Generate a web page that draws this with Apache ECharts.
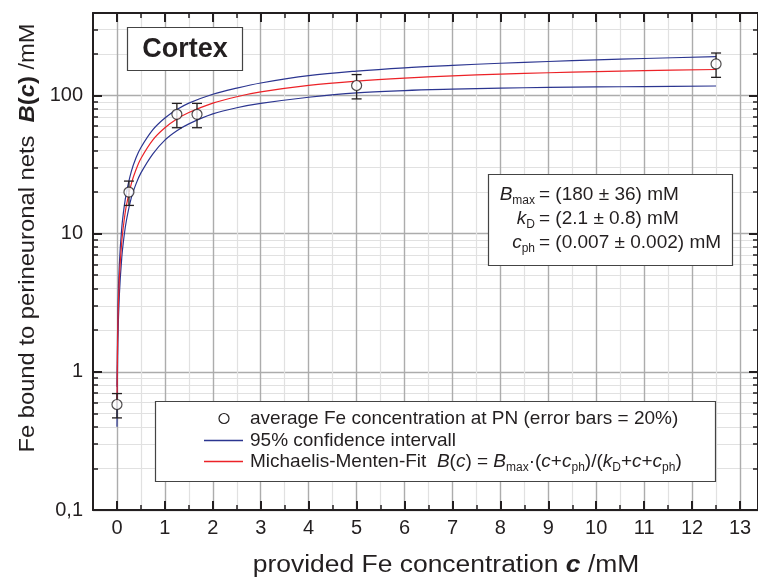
<!DOCTYPE html>
<html><head><meta charset="utf-8">
<script src="https://cdn.jsdelivr.net/npm/echarts@6/dist/echarts.min.js"></script>
<style>html,body{margin:0;padding:0;background:#fff}#c{width:758px;height:579px}</style>
</head><body><div id="c"></div>
<script>
// ---- data ----
const pointC = [0, 0.25, 1.25, 1.67, 5, 12.5];
const pointB = [0.58, 20, 73, 73, 118, 169];
const relErr = 0.2; // error bars = 20%

const fitC   = [0, 0.02, 0.05, 0.1, 0.15, 0.2, 0.3, 0.4, 0.5, 0.75, 1, 1.25, 1.5, 2, 2.5, 3, 4, 5, 6, 7, 8, 9, 10, 11, 12.5];
const fitB   = [0.60, 2.29, 4.76, 8.73, 12.5, 16.2, 23.0, 29.2, 35.0, 47.7, 58.3, 67.4, 75.2, 88.0, 97.9, 106.0, 118.1, 126.8, 133.4, 138.5, 142.6, 146.0, 148.8, 151.2, 154.1];
const upperB = [0.78, 2.9, 6.0, 11.0, 15.6, 20.0, 28.2, 35.5, 42.0, 56.5, 68.6, 79, 88, 102, 113, 123, 139, 150, 158.5, 165, 171, 176, 181, 185, 191];
const lowerB = [0.40, 1.7, 3.6, 6.7, 9.7, 12.6, 18.2, 23.0, 27.5, 37.8, 47.5, 55.5, 62.3, 73.5, 81.5, 87.5, 97, 104.5, 108.5, 111, 113, 114.2, 115.2, 116, 117];

const xMajorTicks = [0, 1, 2, 3, 4, 5, 6, 7, 8, 9, 10, 11, 12, 13];
const xMinorTicks = [0.5, 1.5, 2.5, 3.5, 4.5, 5.5, 6.5, 7.5, 8.5, 9.5, 10.5, 11.5, 12.5];
const yMajorTicks = [0.1, 1, 10, 100];
const yMinorTicks = [0.2, 0.3, 0.4, 0.5, 0.6, 0.7, 0.8, 0.9, 2, 3, 4, 5, 6, 7, 8, 9, 20, 30, 40, 50, 60, 70, 80, 90, 200, 300];

const X_MIN = -0.5, X_MAX = 13.375, Y_MIN = 0.1, Y_MAX = 395;

// ---- styling ----
const FONT = '"Liberation Sans", Arial, Helvetica, sans-serif';
const INK = '#231f20';
const BLUE = '#2b3590';
const RED = '#ec2227';

function xAx(pos, major, showLine, showLabel, showSplit) {
  return {
    type: 'value', position: pos, min: X_MIN, max: X_MAX,
    axisLine: { show: showLine, onZero: false, lineStyle: { color: INK, width: 2 } },
    axisTick: { show: true, inside: true, length: major ? 9 : 5,
      customValues: major ? xMajorTicks : xMinorTicks,
      lineStyle: { color: INK, width: major ? 2 : 1.5 } },
    axisLabel: { show: showLabel, customValues: xMajorTicks, fontSize: 20, margin: 8,
      color: INK, fontFamily: FONT },
    splitLine: { show: showSplit, lineStyle: { color: major ? '#acacac' : '#e1e1e1', width: major ? 1.4 : 1.2 } }
  };
}
function yAx(pos, major, showLine, showLabel, showSplit) {
  return {
    type: 'log', logBase: 10, position: pos, min: Y_MIN, max: Y_MAX,
    axisLine: { show: showLine, onZero: false, lineStyle: { color: INK, width: 2 } },
    axisTick: { show: true, inside: true, length: major ? 9 : 5,
      customValues: major ? yMajorTicks : yMinorTicks,
      lineStyle: { color: INK, width: major ? 2 : 1.5 } },
    axisLabel: { show: showLabel, customValues: yMajorTicks, fontSize: 20, margin: 10,
      color: INK, fontFamily: FONT,
      formatter: v => v < 1 ? (+v).toFixed(1).replace('.', ',') : String(Math.round(v)) },
    splitLine: { show: showSplit, lineStyle: { color: major ? '#acacac' : '#e1e1e1', width: major ? 1.4 : 1.2 } }
  };
}

const sub = { fontSize: 12, lineHeight: 12, verticalAlign: 'bottom', fontFamily: FONT, fill: INK };
const ital = { fontStyle: 'italic', fontSize: 19, lineHeight: 24, fontFamily: FONT, fill: INK };
const norm19 = { fontSize: 19, lineHeight: 24, fontFamily: FONT, fill: INK };

function txt(x, y, text, align, extra) {
  return Object.assign({
    type: 'text', z: 100, x: x, y: y,
    style: { text: text, fill: INK, font: '19px ' + FONT, align: align || 'left', verticalAlign: 'middle',
      rich: { i: ital, s: sub, n: norm19 } }
  }, extra || {});
}

function curve(name, values, color, z) {
  return { name: name, type: 'line', xAxisIndex: 1, yAxisIndex: 1, showSymbol: false, smooth: 0.35,
    data: fitC.map((c, i) => [c, values[i]]), lineStyle: { color: color, width: 1.2 }, z: z };
}

const option = {
  animation: false,
  backgroundColor: '#fff',
  grid: { left: 93, top: 13, width: 666, height: 497 },
  xAxis: [
    xAx('bottom', false, false, false, true),
    xAx('bottom', true, true, true, true),
    xAx('top', false, false, false, false),
    xAx('top', true, true, false, false)
  ],
  yAxis: [
    yAx('left', false, false, false, true),
    yAx('left', true, true, true, true),
    yAx('right', false, false, false, false),
    yAx('right', true, true, false, false)
  ],
  series: [
    curve('upper', upperB, BLUE, 3),
    curve('lower', lowerB, BLUE, 3),
    curve('fit', fitB, RED, 4),
    { name: 'err', type: 'custom', xAxisIndex: 1, yAxisIndex: 1, z: 5,
      data: pointC.map((c, i) => [c, pointB[i]]),
      renderItem: function (params, api) {
        const x = api.value(0), y = api.value(1);
        const t = api.coord([x, y * (1 + relErr)]);
        const b = api.coord([x, y * (1 - relErr)]);
        const hw = 5;
        const st = { stroke: INK, lineWidth: 1.3, fill: null };
        return { type: 'group', children: [
          { type: 'line', shape: { x1: t[0], y1: t[1], x2: b[0], y2: b[1] }, style: st },
          { type: 'line', shape: { x1: t[0] - hw, y1: t[1], x2: t[0] + hw, y2: t[1] }, style: st },
          { type: 'line', shape: { x1: b[0] - hw, y1: b[1], x2: b[0] + hw, y2: b[1] }, style: st }
        ] };
      } },
    { name: 'points', type: 'scatter', xAxisIndex: 1, yAxisIndex: 1, z: 6,
      symbol: 'circle', symbolSize: 10,
      data: pointC.map((c, i) => [c, pointB[i]]),
      itemStyle: { color: '#fff', borderColor: INK, borderWidth: 1.2 } }
  ],
  graphic: [
    // Cortex label
    { type: 'rect', z: 100, shape: { x: 127.5, y: 27.5, width: 115, height: 43 },
      style: { fill: '#fff', stroke: '#444', lineWidth: 1.2 } },
    { type: 'text', z: 101, x: 185, y: 49.5,
      style: { text: 'Cortex', font: 'bold 27px ' + FONT, fill: INK, align: 'center', verticalAlign: 'middle' } },
    // parameter box
    { type: 'rect', z: 100, shape: { x: 488.5, y: 174.5, width: 244, height: 91 },
      style: { fill: '#fff', stroke: '#444', lineWidth: 1.2 } },
    txt(535, 195, '{i|B}{s|max}', 'right'),
    txt(539, 195, '= (180 ± 36) mM', 'left'),
    txt(535, 219, '{i|k}{s|D}', 'right'),
    txt(539, 219, '= (2.1 ± 0.8) mM', 'left'),
    txt(535, 243, '{i|c}{s|ph}', 'right'),
    txt(539, 243, '= (0.007 ± 0.002) mM', 'left'),
    // legend box
    { type: 'rect', z: 100, shape: { x: 155.5, y: 401.5, width: 560, height: 80 },
      style: { fill: '#fff', stroke: '#444', lineWidth: 1.2 } },
    { type: 'circle', z: 101, shape: { cx: 224, cy: 418.5, r: 5 },
      style: { fill: '#fff', stroke: INK, lineWidth: 1.2 } },
    { type: 'line', z: 102, shape: { x1: 204, y1: 440.5, x2: 243, y2: 440.5 },
      style: { stroke: BLUE, lineWidth: 1.4 } },
    { type: 'line', z: 102, shape: { x1: 204, y1: 461.5, x2: 243, y2: 461.5 },
      style: { stroke: RED, lineWidth: 1.4 } },
    txt(250, 418.5, 'average Fe concentration at PN (error bars = 20%)', 'left', { z: 101 }),
    txt(250, 440.5, '95% confidence intervall', 'left', { z: 101 }),
    txt(250, 462, 'Michaelis-Menten-Fit  {i|B}({i|c}) = {i|B}{s|max}·({i|c}+{i|c}{s|ph})/({i|k}{s|D}+{i|c}+{i|c}{s|ph})', 'left', { z: 101 }),
    // axis titles
    { type: 'text', z: 100, x: 446, y: 566, scaleX: 1.15,
      style: { text: 'provided Fe concentration {b|c} /mM', font: '23px ' + FONT, fill: INK,
        align: 'center', verticalAlign: 'middle',
        rich: { b: { fontSize: 23, fontWeight: 'bold', fontStyle: 'italic', fontFamily: FONT, fill: INK } } } },
    { type: 'text', z: 100, x: 28, y: 238, rotation: Math.PI / 2, scaleX: 1.08,
      style: { text: 'Fe bound to perineuronal nets  {b|B}{p|(}{b|c}{p|)} /mM', font: '22px ' + FONT, fill: INK,
        align: 'center', verticalAlign: 'middle',
        rich: { b: { fontSize: 22, fontWeight: 'bold', fontStyle: 'italic', fontFamily: FONT, fill: INK },
                p: { fontSize: 22, fontWeight: 'bold', fontFamily: FONT, fill: INK } } } }
  ]
};

const chart = echarts.init(document.getElementById('c'), null, { renderer: 'canvas' });
chart.setOption(option);
</script>
</body></html>
